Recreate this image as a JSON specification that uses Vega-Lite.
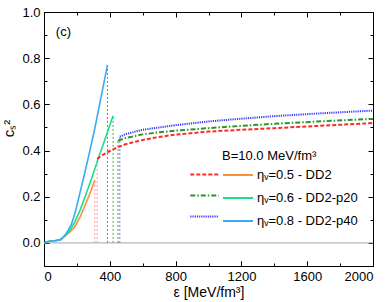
{
  "$schema": "https://vega.github.io/schema/vega-lite/v6.json",
  "width": 329,
  "height": 254,
  "autosize": {"type": "none"},
  "padding": {"left": 44, "top": 12, "right": 17, "bottom": 36},
  "config": {
    "font": "Liberation Sans",
    "view": {"stroke": "#000", "strokeWidth": 1},
    "axis": {"domain": false, "grid": false, "tickColor": "#000", "labelColor": "#000", "labelFont": "Liberation Sans", "labelFontSize": 13, "titleFont": "Liberation Sans", "titleFontWeight": "normal", "titleColor": "#000"},
    "legend": {"labelFont": "Liberation Sans", "titleFont": "Liberation Sans"}
  },
  "datasets": {
    "hadron": [
      {"eps": 0, "cs2": 0, "m": "ηᵥ=0.5 - DD2"},
      {"eps": 15, "cs2": 0.004, "m": "ηᵥ=0.5 - DD2"},
      {"eps": 40, "cs2": 0.008, "m": "ηᵥ=0.5 - DD2"},
      {"eps": 70, "cs2": 0.01, "m": "ηᵥ=0.5 - DD2"},
      {"eps": 100, "cs2": 0.014, "m": "ηᵥ=0.5 - DD2"},
      {"eps": 126, "cs2": 0.028, "m": "ηᵥ=0.5 - DD2"},
      {"eps": 155, "cs2": 0.045, "m": "ηᵥ=0.5 - DD2"},
      {"eps": 187, "cs2": 0.07, "m": "ηᵥ=0.5 - DD2"},
      {"eps": 218, "cs2": 0.11, "m": "ηᵥ=0.5 - DD2"},
      {"eps": 248, "cs2": 0.16, "m": "ηᵥ=0.5 - DD2"},
      {"eps": 280, "cs2": 0.215, "m": "ηᵥ=0.5 - DD2"},
      {"eps": 309, "cs2": 0.272, "m": "ηᵥ=0.5 - DD2"},
      {"eps": 0, "cs2": 0, "m": "ηᵥ=0.6 - DD2-p20"},
      {"eps": 15, "cs2": 0.004, "m": "ηᵥ=0.6 - DD2-p20"},
      {"eps": 40, "cs2": 0.008, "m": "ηᵥ=0.6 - DD2-p20"},
      {"eps": 70, "cs2": 0.01, "m": "ηᵥ=0.6 - DD2-p20"},
      {"eps": 100, "cs2": 0.014, "m": "ηᵥ=0.6 - DD2-p20"},
      {"eps": 126, "cs2": 0.03, "m": "ηᵥ=0.6 - DD2-p20"},
      {"eps": 155, "cs2": 0.052, "m": "ηᵥ=0.6 - DD2-p20"},
      {"eps": 187, "cs2": 0.09, "m": "ηᵥ=0.6 - DD2-p20"},
      {"eps": 218, "cs2": 0.14, "m": "ηᵥ=0.6 - DD2-p20"},
      {"eps": 248, "cs2": 0.197, "m": "ηᵥ=0.6 - DD2-p20"},
      {"eps": 290, "cs2": 0.28, "m": "ηᵥ=0.6 - DD2-p20"},
      {"eps": 329, "cs2": 0.363, "m": "ηᵥ=0.6 - DD2-p20"},
      {"eps": 370, "cs2": 0.447, "m": "ηᵥ=0.6 - DD2-p20"},
      {"eps": 420, "cs2": 0.551, "m": "ηᵥ=0.6 - DD2-p20"},
      {"eps": 0, "cs2": 0, "m": "ηᵥ=0.8 - DD2-p40"},
      {"eps": 15, "cs2": 0.004, "m": "ηᵥ=0.8 - DD2-p40"},
      {"eps": 40, "cs2": 0.008, "m": "ηᵥ=0.8 - DD2-p40"},
      {"eps": 70, "cs2": 0.01, "m": "ηᵥ=0.8 - DD2-p40"},
      {"eps": 100, "cs2": 0.014, "m": "ηᵥ=0.8 - DD2-p40"},
      {"eps": 126, "cs2": 0.032, "m": "ηᵥ=0.8 - DD2-p40"},
      {"eps": 145, "cs2": 0.052, "m": "ηᵥ=0.8 - DD2-p40"},
      {"eps": 167, "cs2": 0.081, "m": "ηᵥ=0.8 - DD2-p40"},
      {"eps": 187, "cs2": 0.125, "m": "ηᵥ=0.8 - DD2-p40"},
      {"eps": 207, "cs2": 0.182, "m": "ηᵥ=0.8 - DD2-p40"},
      {"eps": 240, "cs2": 0.28, "m": "ηᵥ=0.8 - DD2-p40"},
      {"eps": 276, "cs2": 0.39, "m": "ηᵥ=0.8 - DD2-p40"},
      {"eps": 310, "cs2": 0.5, "m": "ηᵥ=0.8 - DD2-p40"},
      {"eps": 345, "cs2": 0.625, "m": "ηᵥ=0.8 - DD2-p40"},
      {"eps": 386, "cs2": 0.771, "m": "ηᵥ=0.8 - DD2-p40"}
    ],
    "quark": [
      {"eps": 323, "cs2": 0.364, "q": "DD2 quark"},
      {"eps": 350, "cs2": 0.378, "q": "DD2 quark"},
      {"eps": 400, "cs2": 0.398, "q": "DD2 quark"},
      {"eps": 450, "cs2": 0.415, "q": "DD2 quark"},
      {"eps": 500, "cs2": 0.428, "q": "DD2 quark"},
      {"eps": 600, "cs2": 0.446, "q": "DD2 quark"},
      {"eps": 700, "cs2": 0.459, "q": "DD2 quark"},
      {"eps": 800, "cs2": 0.469, "q": "DD2 quark"},
      {"eps": 1000, "cs2": 0.482, "q": "DD2 quark"},
      {"eps": 1200, "cs2": 0.49, "q": "DD2 quark"},
      {"eps": 1400, "cs2": 0.497, "q": "DD2 quark"},
      {"eps": 1700, "cs2": 0.508, "q": "DD2 quark"},
      {"eps": 2000, "cs2": 0.519, "q": "DD2 quark"},
      {"eps": 450, "cs2": 0.443, "q": "DD2-p20 quark"},
      {"eps": 500, "cs2": 0.455, "q": "DD2-p20 quark"},
      {"eps": 600, "cs2": 0.47, "q": "DD2-p20 quark"},
      {"eps": 700, "cs2": 0.479, "q": "DD2-p20 quark"},
      {"eps": 800, "cs2": 0.486, "q": "DD2-p20 quark"},
      {"eps": 1000, "cs2": 0.497, "q": "DD2-p20 quark"},
      {"eps": 1200, "cs2": 0.507, "q": "DD2-p20 quark"},
      {"eps": 1400, "cs2": 0.516, "q": "DD2-p20 quark"},
      {"eps": 1700, "cs2": 0.527, "q": "DD2-p20 quark"},
      {"eps": 2000, "cs2": 0.537, "q": "DD2-p20 quark"},
      {"eps": 461, "cs2": 0.46, "q": "DD2-p40 quark"},
      {"eps": 500, "cs2": 0.472, "q": "DD2-p40 quark"},
      {"eps": 600, "cs2": 0.49, "q": "DD2-p40 quark"},
      {"eps": 700, "cs2": 0.5, "q": "DD2-p40 quark"},
      {"eps": 800, "cs2": 0.51, "q": "DD2-p40 quark"},
      {"eps": 1000, "cs2": 0.526, "q": "DD2-p40 quark"},
      {"eps": 1200, "cs2": 0.538, "q": "DD2-p40 quark"},
      {"eps": 1400, "cs2": 0.549, "q": "DD2-p40 quark"},
      {"eps": 1700, "cs2": 0.562, "q": "DD2-p40 quark"},
      {"eps": 2000, "cs2": 0.573, "q": "DD2-p40 quark"}
    ],
    "mixed": [
      {"eps": 309, "top": 0.272, "g": "DD2"},
      {"eps": 323, "top": 0.364, "g": "DD2"},
      {"eps": 420, "top": 0.551, "g": "DD2-p20"},
      {"eps": 450, "top": 0.443, "g": "DD2-p20"},
      {"eps": 386, "top": 0.771, "g": "DD2-p40"},
      {"eps": 461, "top": 0.46, "g": "DD2-p40"}
    ]
  },
  "resolve": {
    "axis": {"x": "independent", "y": "independent"},
    "scale": {"color": "independent"}
  },
  "layer": [
    {
      "data": {"values": [{"a": 0, "b": 2000, "z": 0}]},
      "mark": {"type": "rule", "color": "#a6a6a6", "strokeWidth": 1},
      "encoding": {
        "x": {"field": "a", "type": "quantitative",
          "scale": {"domain": [0, 2000], "nice": false, "zero": false},
          "axis": {"orient": "bottom", "values": [0, 400, 800, 1200, 1600, 2000], "format": "d", "tickSize": -5, "labelPadding": 9,
            "title": "ε [MeV/fm³]", "titleFontSize": 14, "titlePadding": 2}},
        "x2": {"field": "b"},
        "y": {"field": "z", "type": "quantitative",
          "scale": {"domain": [-0.1, 1.0], "nice": false, "zero": false},
          "axis": {"orient": "left", "values": [0, 0.2, 0.4, 0.6, 0.8, 1.0], "format": ".1f", "tickSize": -5, "labelPadding": 9,
            "title": "cₛ²", "titleFontSize": 15, "titlePadding": 5, "titleY": 116}}
      }
    },
    {
      "data": {"name": "mixed"},
      "transform": [{"calculate": "0", "as": "base"}],
      "mark": {"type": "rule", "strokeWidth": 1, "strokeDash": [2, 2]},
      "encoding": {
        "x": {"field": "eps", "type": "quantitative",
          "axis": {"orient": "top", "values": [0, 400, 800, 1200, 1600, 2000], "tickSize": -5, "labels": false, "title": null}},
        "y": {"field": "base", "type": "quantitative",
          "axis": {"orient": "right", "values": [0, 0.2, 0.4, 0.6, 0.8, 1.0], "tickSize": -5, "labels": false, "title": null}},
        "y2": {"field": "top"},
        "color": {"field": "g", "type": "nominal",
          "scale": {"domain": ["DD2", "DD2-p20", "DD2-p40"], "range": ["#ff9b9b", "#4aa64a", "#6f6fff"]}, "legend": null}
      }
    },
    {
      "data": {"name": "hadron"},
      "mark": {"type": "line", "strokeWidth": 1.6},
      "encoding": {
        "x": {"field": "eps", "type": "quantitative",
          "axis": {"orient": "bottom", "values": [200, 600, 1000, 1400, 1800], "tickSize": -3, "labels": false, "title": null}},
        "y": {"field": "cs2", "type": "quantitative",
          "axis": {"orient": "left", "values": [0.1, 0.3, 0.5, 0.7, 0.9], "tickSize": -3, "labels": false, "title": null}},
        "color": {"field": "m", "type": "nominal",
          "scale": {"domain": ["ηᵥ=0.5 - DD2", "ηᵥ=0.6 - DD2-p20", "ηᵥ=0.8 - DD2-p40"], "range": ["#f7923c", "#1fdc8c", "#3aaaf5"]},
          "legend": {"orient": "none", "legendX": 178, "legendY": 138, "title": "\u00a0\u00a0B=10.0 MeV/fm³",
            "titleFontSize": 13, "titleFontWeight": "normal", "titleColor": "#000", "titlePadding": -4,
            "symbolType": "stroke", "symbolSize": 900, "symbolStrokeWidth": 2,
            "labelFontSize": 13, "labelColor": "#000", "labelOffset": 3, "rowPadding": -10}}
      }
    },
    {
      "data": {"name": "quark"},
      "mark": {"type": "line", "strokeWidth": 2},
      "encoding": {
        "x": {"field": "eps", "type": "quantitative",
          "axis": {"orient": "top", "values": [200, 600, 1000, 1400, 1800], "tickSize": -3, "labels": false, "title": null}},
        "y": {"field": "cs2", "type": "quantitative",
          "axis": {"orient": "right", "values": [0.1, 0.3, 0.5, 0.7, 0.9], "tickSize": -3, "labels": false, "title": null}},
        "stroke": {"field": "q", "type": "nominal",
          "scale": {"domain": ["DD2 quark", "DD2-p20 quark", "DD2-p40 quark"], "range": ["#ff2b2b", "#2a962a", "#3a3aff"]},
          "legend": {"orient": "none", "legendX": 145, "legendY": 147, "title": null, "labelExpr": "''",
            "symbolType": "stroke", "symbolSize": 810, "symbolStrokeWidth": 2, "rowPadding": -10}},
        "strokeDash": {"field": "q", "type": "nominal",
          "scale": {"domain": ["DD2 quark", "DD2-p20 quark", "DD2-p40 quark"], "range": [[4, 2], [5, 2, 1.5, 2], [1.2, 1]]}}
      }
    },
    {
      "data": {"values": [{"label": "(c)"}]},
      "mark": {"type": "text", "align": "left", "baseline": "middle", "fontSize": 13, "color": "#000"},
      "encoding": {
        "text": {"field": "label"},
        "x": {"datum": 72, "type": "quantitative",
          "axis": {"orient": "bottom", "values": [0, 400, 800, 1200, 1600, 2000], "tickSize": -5, "labels": false, "title": null}},
        "y": {"datum": 0.915, "type": "quantitative",
          "axis": {"orient": "left", "values": [0, 0.2, 0.4, 0.6, 0.8, 1.0], "tickSize": -5, "labels": false, "title": null}}
      }
    }
  ]
}
